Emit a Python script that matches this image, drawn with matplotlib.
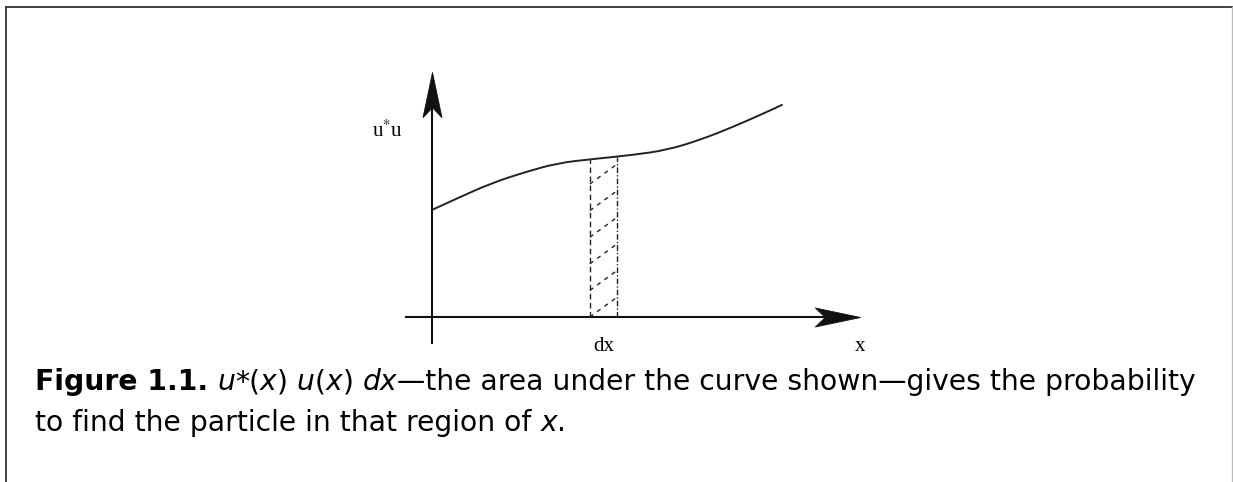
import matplotlib
matplotlib.use('Agg')
import matplotlib.pyplot as plt
from matplotlib.lines import Line2D
from matplotlib.path import Path
from matplotlib.patches import PathPatch
import numpy as np

# curve u*u (x in axis units, origin at the axes crossing)
curve_x = [0.00, 0.74, 1.71, 2.66, 3.60, 4.57, 5.74, 6.71, 7.66, 8.60, 9.57, 10.00]
curve_y = [3.06, 3.40, 3.83, 4.14, 4.40, 4.51, 4.63, 4.77, 5.06, 5.43, 5.86, 6.06]

# the dx strip
strip_left = 4.51
strip_right = 5.29

# axis extents
x_axis = [-0.77, 12.23]
y_axis = [-0.77, 7.00]

axis_labels = {"y": "u$^{*}$u", "dx": "dx", "x": "x"}

caption_line1 = [
    ("Figure 1.1.", "normal", "bold", False),
    ("u", "italic", "normal", True),
    ("*(", "normal", "normal", False),
    ("x", "italic", "normal", False),
    (")", "normal", "normal", False),
    ("u", "italic", "normal", True),
    ("(", "normal", "normal", False),
    ("x", "italic", "normal", False),
    (")", "normal", "normal", False),
    ("dx", "italic", "normal", True),
    ("\u2014the area under the curve shown\u2014gives the probability", "normal", "normal", False),
]
caption_line2 = [
    ("to find the particle in that region of", "normal", "normal", False),
    ("x", "italic", "normal", True),
    (".", "normal", "normal", False),
]

W, H = 1233, 482
DPI = 100
UNIT = 35.0  # pixels per axis unit
OX, OY = 432, 317  # pixel position of origin

plt.rcParams['mathtext.fontset'] = 'stix'
fig = plt.figure(figsize=(W / DPI, H / DPI), dpi=DPI)
ax = fig.add_axes([0, 0, 1, 1])
ax.set_xlim(-OX / UNIT, (W - OX) / UNIT)
ax.set_ylim(-(H - OY) / UNIT, OY / UNIT)
ax.axis('off')

# page frame
fig.add_artist(Line2D([6 / W, 1], [1 - 7 / H, 1 - 7 / H], transform=fig.transFigure, color='#333333', lw=1.3))
fig.add_artist(Line2D([6 / W, 6 / W], [0, 1 - 7 / H], transform=fig.transFigure, color='#333333', lw=1.3))
fig.add_artist(Line2D([1 - 1 / W, 1 - 1 / W], [0, 1 - 7 / H], transform=fig.transFigure, color='#bbbbbb', lw=1.0))

# axes with notched (stealth) arrowheads drawn as markers
head = 1.0  # axis units from tip back to the notch
right_head = Path([(0, 0), (-1, 0.21), (-0.78, 0), (-1, -0.21), (0, 0)],
                  [Path.MOVETO, Path.LINETO, Path.LINETO, Path.LINETO, Path.CLOSEPOLY])
up_head = Path([(0, 0), (0.21, -1), (0, -0.78), (-0.21, -1), (0, 0)],
               [Path.MOVETO, Path.LINETO, Path.LINETO, Path.LINETO, Path.CLOSEPOLY])
ax.plot([x_axis[0], x_axis[1] - head], [0, 0], color='#111111', lw=1.5, solid_capstyle='butt')
ax.plot([0, 0], [y_axis[0], y_axis[1] - head], color='#111111', lw=1.5, solid_capstyle='butt')
ax.plot(x_axis[1], 0, marker=right_head, markersize=65, color='#111111', markeredgewidth=0.6)
ax.plot(0, y_axis[1], marker=up_head, markersize=65, color='#111111', markeredgewidth=0.6)

# curve: quadratic path through the read points, smoothed by the path renderer
pts = np.column_stack([curve_x, curve_y])
verts = [pts[0]]
codes = [Path.MOVETO]
for i in range(1, len(pts) - 1):
    verts += [pts[i], (pts[i] + pts[i + 1]) / 2]
    codes += [Path.CURVE3, Path.CURVE3]
verts.append(pts[-1])
codes.append(Path.LINETO)
ax.add_patch(PathPatch(Path(verts, codes), fill=False, edgecolor='#222222', lw=1.4,
                       capstyle='round'))

# dx strip
top_left = np.interp(strip_left, curve_x, curve_y)
top_right = np.interp(strip_right, curve_x, curve_y)
ax.plot([strip_left, strip_left], [0, top_left], color='#222222', lw=1.0, ls=(0, (4, 2.5)))
ax.plot([strip_right, strip_right], [0, top_right], color='#222222', lw=1.0, ls=(0, (4, 1.5, 1, 1.5)))

# hatching inside the strip
pitch = 0.76
rise = 0.57
y0 = 0.0
while y0 + rise < top_left:
    ax.plot([strip_left, strip_right], [y0, y0 + rise], color='#222222', lw=1.0,
            ls=(0, (3, 3.5)))
    y0 += pitch

# axis labels
serif = 'Liberation Serif'
ax.text(-1.26, 5.30, axis_labels["y"], family=serif, fontsize=15, ha='center', va='center')
ax.text((strip_left + strip_right) / 2, -0.83, axis_labels["dx"], family=serif, fontsize=15,
        ha='center', va='center')
ax.text(x_axis[1], -0.83, axis_labels["x"], family=serif, fontsize=15, ha='center', va='center')

# caption, built piece by piece so styles can change inside a line
renderer = fig.canvas.get_renderer()
CAP_SIZE = 20.3


def text_width(s, style='normal', weight='normal'):
    t = fig.text(0, 0, s, fontsize=CAP_SIZE, style=style, weight=weight, family='DejaVu Sans')
    w = t.get_window_extent(renderer).width
    t.remove()
    return w


space = text_width("a a") - text_width("aa")


def write_line(parts, x_px, y_px):
    x = x_px
    for s, style, weight, gap in parts:
        if gap:
            x += space
        t = fig.text(x / W, 1 - y_px / H, s, fontsize=CAP_SIZE, style=style, weight=weight,
                     family='DejaVu Sans', va='baseline', ha='left', color='#000000')
        x += t.get_window_extent(renderer).width


write_line(caption_line1, 35, 390)
write_line(caption_line2, 35, 431)

fig.savefig('out.png', dpi=DPI)
